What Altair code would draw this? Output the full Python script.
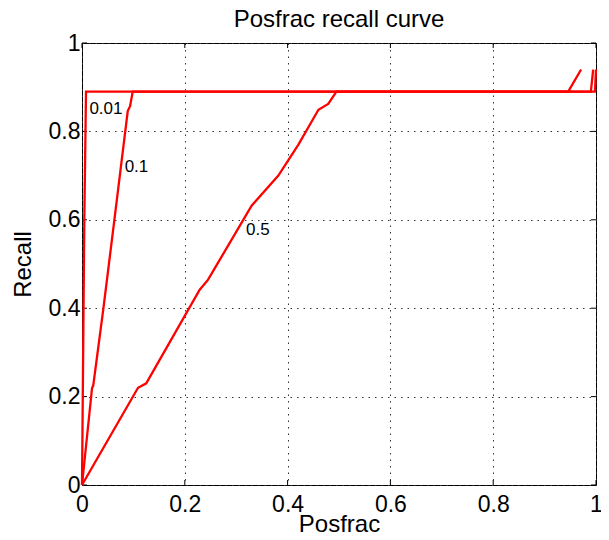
import altair as alt
import pandas as pd

# Curve data
x_001 = [0.0, 0.0045, 0.0078, 0.998, 1.0]
y_001 = [0.0, 0.60, 0.89, 0.89, 0.94]

x_01 = [0.0, 0.0195, 0.022, 0.0417, 0.063, 0.089, 0.0935, 0.0987, 0.990, 0.9945]
y_01 = [0.0, 0.219, 0.226, 0.40, 0.60, 0.846, 0.857, 0.89, 0.89, 0.94]

x_05 = [0.0, 0.109, 0.125, 0.229, 0.245, 0.33, 0.382, 0.421, 0.46, 0.479, 0.495, 0.946, 0.971]
y_05 = [0.0, 0.22, 0.23, 0.442, 0.464, 0.632, 0.70, 0.77, 0.849, 0.862, 0.89, 0.89, 0.94]

label_text = ["0.01", "0.1", "0.5"]
label_x = [0.0144, 0.083, 0.319]
label_y = [0.85, 0.72, 0.578]

tick_values = [0, 0.2, 0.4, 0.6, 0.8, 1.0]

rows = []
for name, xs, ys in [("0.01", x_001, y_001), ("0.1", x_01, y_01), ("0.5", x_05, y_05)]:
    for i, (a, b) in enumerate(zip(xs, ys)):
        rows.append({"series": name, "idx": i, "posfrac": a, "recall": b})
df = pd.DataFrame(rows)
lab_df = pd.DataFrame({"label": label_text, "posfrac": label_x, "recall": label_y})
tick_df = pd.DataFrame({"posfrac": tick_values, "recall": tick_values})

W, H = 514, 442
FONT = "Liberation Sans"

xscale = alt.Scale(domain=[0, 1], nice=False, zero=False)
yscale = alt.Scale(domain=[0, 1], nice=False, zero=False)

xaxis = alt.Axis(values=tick_values, format="~g", title="Posfrac", grid=True,
                 gridDash=[1.5, 5], gridColor="#333", gridWidth=1,
                 ticks=False, domain=False, labelFlush=False,
                 labelFont=FONT, labelFontSize=23, labelColor="black", labelPadding=8,
                 titleFont=FONT, titleFontSize=24, titleFontWeight="normal",
                 titleColor="black", titleBaseline="alphabetic", titleY=46)
yaxis = alt.Axis(values=tick_values, format="~g", title="Recall", grid=True,
                 gridDash=[1.5, 5], gridColor="#333", gridWidth=1,
                 ticks=False, domain=False, labelFlush=False,
                 labelFont=FONT, labelFontSize=23, labelColor="black", labelPadding=2,
                 titleFont=FONT, titleFontSize=24, titleFontWeight="normal",
                 titleColor="black", titlePadding=13)

X = alt.X("posfrac:Q", scale=xscale, axis=xaxis)
Y = alt.Y("recall:Q", scale=yscale, axis=yaxis)

lines = alt.Chart(df).mark_line(color="#ff0000", strokeWidth=2.3).encode(
    x=X, y=Y, detail="series:N", order="idx:Q"
)

labels = alt.Chart(lab_df).mark_text(align="left", baseline="middle", font=FONT,
                                      fontSize=17, color="black").encode(
    x=X, y=Y, text="label:N"
)

tb = alt.Chart(tick_df).mark_rule(color="black", strokeWidth=1).encode(
    x=X, y=alt.value(H), y2=alt.value(H - 5))
tt = alt.Chart(tick_df).mark_rule(color="black", strokeWidth=1).encode(
    x=X, y=alt.value(0), y2=alt.value(5))
tl = alt.Chart(tick_df).mark_rule(color="black", strokeWidth=1).encode(
    y=Y, x=alt.value(0), x2=alt.value(5))
tr = alt.Chart(tick_df).mark_rule(color="black", strokeWidth=1).encode(
    y=Y, x=alt.value(W), x2=alt.value(W - 5))

chart = alt.layer(tb, tt, tl, tr, lines, labels).properties(
    width=W, height=H,
    title=alt.TitleParams("Posfrac recall curve", font=FONT, fontSize=24,
                          fontWeight="normal", color="black", offset=0, anchor="middle"),
    padding={"left": 74, "top": 35, "right": 5, "bottom": 47},
    autosize=alt.AutoSizeParams(type="none"),
    background="white",
).configure_view(stroke="black", strokeWidth=1)

chart.save("out.html", embed_options={"renderer": "svg", "actions": False})
